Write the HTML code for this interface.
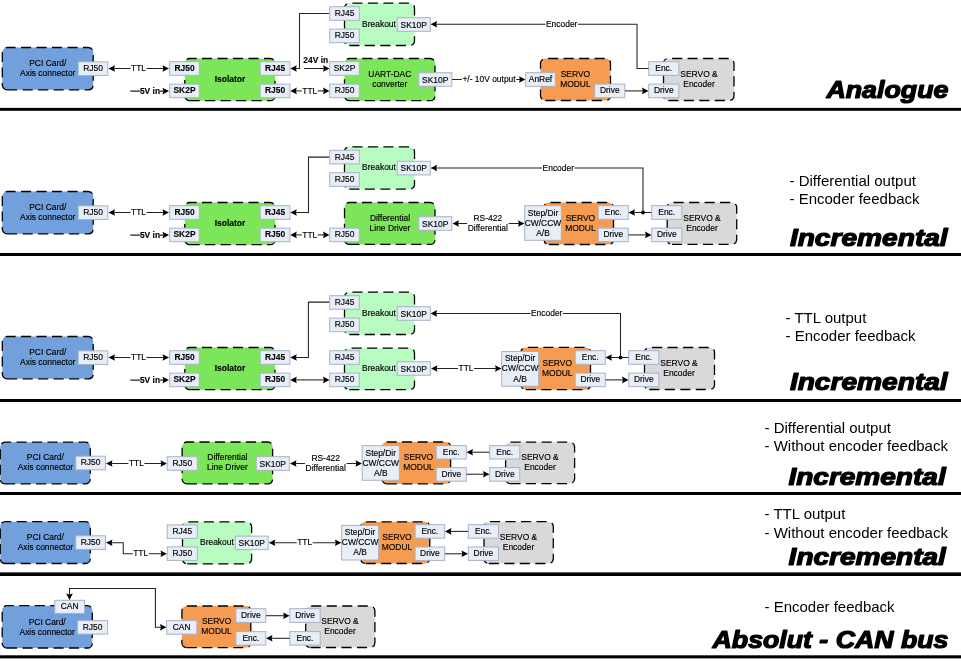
<!DOCTYPE html>
<html lang="en"><head><meta charset="utf-8"><title>Axis connection diagrams</title>
<style>
html,body{margin:0;padding:0;background:#fff}
svg{display:block;will-change:transform}
text{font-family:"Liberation Sans",Arial,sans-serif;fill:#000}
.t{font-size:8.45px;stroke:#000;stroke-width:0.15px}
.tb{font-size:8.45px;font-weight:bold;stroke:#000;stroke-width:0.12px}
.bl{font-size:15px;fill:#000}
.ti{font-size:23px;font-weight:bold;font-style:italic;fill:#000;stroke:#000;stroke-width:1.2px;stroke-linejoin:round}
.bg{stroke:#000;stroke-width:1.3;stroke-dasharray:10.1 5.4}
.sb{fill:#E8EEF8;stroke:#A9B2C5;stroke-width:1}
.ln{fill:none;stroke:#222;stroke-width:1.05}
.ah{fill:#000}
</style></head>
<body>
<svg width="961" height="661" viewBox="0 0 961 661">
<path class="bg" d="M7.1,89.8H88.4A4.8,4.8 0 0 0 93.2,85V52.3A4.8,4.8 0 0 0 88.4,47.5H7.1A4.8,4.8 0 0 0 2.3,52.3V85A4.8,4.8 0 0 0 7.1,89.8Z" fill="#72A0DC"/>
<text class="t" x="47.75" y="65.75" text-anchor="middle">PCI Card/</text>
<text class="t" x="47.75" y="75.95" text-anchor="middle">Axis connector</text>
<rect class="sb" x="78.2" y="61.85" width="29.6" height="13.6"/>
<text class="t" x="93" y="71.1" text-anchor="middle">RJ50</text>
<polyline class="ln" points="113.5,68.5 164,68.5"/>
<polygon class="ah" points="108.5,68.5 115,65.2 114.1,68.5 115,71.8"/>
<polygon class="ah" points="169,68.5 162.5,65.2 163.4,68.5 162.5,71.8"/>
<rect x="130.49" y="63.5" width="16.02" height="10" fill="#fff"/>
<text class="t" x="138.5" y="71.1" text-anchor="middle">TTL</text>
<path class="bg" d="M189.6,100.7H270.2A4.8,4.8 0 0 0 275,95.9V63.3A4.8,4.8 0 0 0 270.2,58.5H189.6A4.8,4.8 0 0 0 184.8,63.3V95.9A4.8,4.8 0 0 0 189.6,100.7Z" fill="#7DE55A"/>
<text class="tb" x="230" y="81.9" text-anchor="middle">Isolator</text>
<rect class="sb" x="169.7" y="61.7" width="29.6" height="13.6"/>
<text class="tb" x="184.5" y="70.95" text-anchor="middle">RJ50</text>
<rect class="sb" x="169.7" y="84.1" width="29.6" height="13.6"/>
<text class="tb" x="184.5" y="93.35" text-anchor="middle">SK2P</text>
<rect class="sb" x="260.2" y="61.7" width="29.7" height="13.6"/>
<text class="tb" x="275.05" y="70.95" text-anchor="middle">RJ45</text>
<rect class="sb" x="260.2" y="84.1" width="29.7" height="13.6"/>
<text class="tb" x="275.05" y="93.35" text-anchor="middle">RJ50</text>
<polyline class="ln" points="130.3,91.1 164,91.1"/>
<polygon class="ah" points="169,91.1 162.5,87.8 163.4,91.1 162.5,94.4"/>
<rect x="139.90" y="86.1" width="20.19" height="10" fill="#fff"/>
<text class="tb" x="150" y="93.7" text-anchor="middle">5V in</text>
<polyline class="ln" points="296,68.5 299.5,68.5 299.5,13.5 329.5,13.5"/>
<polygon class="ah" points="290.3,68.5 296.8,65.2 295.9,68.5 296.8,71.8"/>
<polyline class="ln" points="304,68.5 324,68.5"/>
<polygon class="ah" points="329.5,68.5 323,65.2 323.9,68.5 323,71.8"/>
<text class="tb" x="303.3" y="62.8" text-anchor="start">24V in</text>
<polyline class="ln" points="295.3,90.9 324.5,90.9"/>
<polygon class="ah" points="290.3,90.9 296.8,87.6 295.9,90.9 296.8,94.2"/>
<polygon class="ah" points="329.5,90.9 323,87.6 323.9,90.9 323,94.2"/>
<rect x="301.79" y="85.9" width="16.02" height="10" fill="#fff"/>
<text class="t" x="309.8" y="93.5" text-anchor="middle">TTL</text>
<path class="bg" d="M349.3,45.5H409.7A4.8,4.8 0 0 0 414.5,40.7V8A4.8,4.8 0 0 0 409.7,3.2H349.3A4.8,4.8 0 0 0 344.5,8V40.7A4.8,4.8 0 0 0 349.3,45.5Z" fill="#B9FCC1"/>
<text class="t" x="379" y="26.6" text-anchor="middle">Breakout</text>
<rect class="sb" x="329.7" y="6.7" width="29.6" height="13.6"/>
<text class="t" x="344.5" y="15.95" text-anchor="middle">RJ45</text>
<rect class="sb" x="329.7" y="29.1" width="29.6" height="13.6"/>
<text class="t" x="344.5" y="38.35" text-anchor="middle">RJ50</text>
<rect class="sb" x="397.2" y="17.7" width="33.1" height="13.6"/>
<text class="t" x="413.75" y="27.75" text-anchor="middle">SK10P</text>
<path class="bg" d="M349.3,100.7H430.2A4.8,4.8 0 0 0 435,95.9V63.3A4.8,4.8 0 0 0 430.2,58.5H349.3A4.8,4.8 0 0 0 344.5,63.3V95.9A4.8,4.8 0 0 0 349.3,100.7Z" fill="#7DE55A"/>
<text class="t" x="389.8" y="77" text-anchor="middle">UART-DAC</text>
<text class="t" x="389.8" y="87.1" text-anchor="middle">converter</text>
<rect class="sb" x="329.7" y="61.7" width="29.6" height="13.6"/>
<text class="t" x="344.5" y="70.95" text-anchor="middle">SK2P</text>
<rect class="sb" x="329.7" y="84.1" width="29.6" height="13.6"/>
<text class="t" x="344.5" y="93.35" text-anchor="middle">RJ50</text>
<rect class="sb" x="418.7" y="72.7" width="33.1" height="13.6"/>
<text class="t" x="435.25" y="82.75" text-anchor="middle">SK10P</text>
<polyline class="ln" points="452,79.5 520.5,79.5"/>
<polygon class="ah" points="525.5,79.5 519,76.2 519.9,79.5 519,82.8"/>
<rect x="461.84" y="74.5" width="54.32" height="10" fill="#fff"/>
<text class="t" x="489" y="82.1" text-anchor="middle">+/- 10V output</text>
<path class="bg" d="M545.3,100.5H605.7A4.8,4.8 0 0 0 610.5,95.7V63.3A4.8,4.8 0 0 0 605.7,58.5H545.3A4.8,4.8 0 0 0 540.5,63.3V95.7A4.8,4.8 0 0 0 545.3,100.5Z" fill="#F59C52"/>
<text class="t" x="575.4" y="76.9" text-anchor="middle">SERVO</text>
<text class="t" x="575.4" y="87" text-anchor="middle">MODUL</text>
<rect class="sb" x="525.7" y="72.7" width="29.6" height="13.6"/>
<text class="t" x="540.5" y="81.95" text-anchor="middle">AnRef</text>
<rect class="sb" x="594.7" y="84.1" width="30.1" height="13.6"/>
<text class="t" x="609.75" y="93.35" text-anchor="middle">Drive</text>
<polyline class="ln" points="625,90.9 643.5,90.9"/>
<polygon class="ah" points="648.5,90.9 642,87.6 642.9,90.9 642,94.2"/>
<path class="bg" d="M668.3,100.5H729.2A4.8,4.8 0 0 0 734,95.7V63.3A4.8,4.8 0 0 0 729.2,58.5H668.3A4.8,4.8 0 0 0 663.5,63.3V95.7A4.8,4.8 0 0 0 668.3,100.5Z" fill="#D9D9D9"/>
<text class="t" x="699" y="76.9" text-anchor="middle">SERVO &amp;</text>
<text class="t" x="699" y="87" text-anchor="middle">Encoder</text>
<rect class="sb" x="648.7" y="61.7" width="30.1" height="13.6"/>
<text class="t" x="663.75" y="70.95" text-anchor="middle">Enc.</text>
<rect class="sb" x="648.7" y="84.1" width="30.1" height="13.6"/>
<text class="t" x="663.75" y="93.35" text-anchor="middle">Drive</text>
<polyline class="ln" points="648.5,68.5 637,68.5 637,24.3 436,24.3"/>
<polygon class="ah" points="430.6,24.3 437.1,21 436.2,24.3 437.1,27.6"/>
<rect x="545.46" y="19.3" width="32.47" height="10" fill="#fff"/>
<text class="t" x="561.7" y="26.9" text-anchor="middle">Encoder</text>
<text class="ti" x="826.4" y="97.9" textLength="122" lengthAdjust="spacingAndGlyphs">Analogue</text>
<rect x="0" y="107.9" width="961" height="2.9" fill="#000"/>
<path class="bg" d="M7.1,233.8H88.4A4.8,4.8 0 0 0 93.2,229V196.3A4.8,4.8 0 0 0 88.4,191.5H7.1A4.8,4.8 0 0 0 2.3,196.3V229A4.8,4.8 0 0 0 7.1,233.8Z" fill="#72A0DC"/>
<text class="t" x="47.75" y="209.75" text-anchor="middle">PCI Card/</text>
<text class="t" x="47.75" y="219.95" text-anchor="middle">Axis connector</text>
<rect class="sb" x="78.2" y="205.85" width="29.6" height="13.6"/>
<text class="t" x="93" y="215.1" text-anchor="middle">RJ50</text>
<polyline class="ln" points="113.5,212.5 164,212.5"/>
<polygon class="ah" points="108.5,212.5 115,209.2 114.1,212.5 115,215.8"/>
<polygon class="ah" points="169,212.5 162.5,209.2 163.4,212.5 162.5,215.8"/>
<rect x="130.49" y="207.5" width="16.02" height="10" fill="#fff"/>
<text class="t" x="138.5" y="215.1" text-anchor="middle">TTL</text>
<path class="bg" d="M189.6,244.7H270.2A4.8,4.8 0 0 0 275,239.9V207.3A4.8,4.8 0 0 0 270.2,202.5H189.6A4.8,4.8 0 0 0 184.8,207.3V239.9A4.8,4.8 0 0 0 189.6,244.7Z" fill="#7DE55A"/>
<text class="tb" x="230" y="225.9" text-anchor="middle">Isolator</text>
<rect class="sb" x="169.7" y="205.7" width="29.6" height="13.6"/>
<text class="tb" x="184.5" y="214.95" text-anchor="middle">RJ50</text>
<rect class="sb" x="169.7" y="228.1" width="29.6" height="13.6"/>
<text class="tb" x="184.5" y="237.35" text-anchor="middle">SK2P</text>
<rect class="sb" x="260.2" y="205.7" width="29.7" height="13.6"/>
<text class="tb" x="275.05" y="214.95" text-anchor="middle">RJ45</text>
<rect class="sb" x="260.2" y="228.1" width="29.7" height="13.6"/>
<text class="tb" x="275.05" y="237.35" text-anchor="middle">RJ50</text>
<polyline class="ln" points="130.3,235.1 164,235.1"/>
<polygon class="ah" points="169,235.1 162.5,231.8 163.4,235.1 162.5,238.4"/>
<rect x="139.90" y="230.1" width="20.19" height="10" fill="#fff"/>
<text class="tb" x="150" y="237.7" text-anchor="middle">5V in</text>
<polyline class="ln" points="296,212.5 308.5,212.5 308.5,157.1 329.5,157.1"/>
<polygon class="ah" points="290.3,212.5 296.8,209.2 295.9,212.5 296.8,215.8"/>
<polyline class="ln" points="295.3,234.9 324.5,234.9"/>
<polygon class="ah" points="290.3,234.9 296.8,231.6 295.9,234.9 296.8,238.2"/>
<polygon class="ah" points="329.5,234.9 323,231.6 323.9,234.9 323,238.2"/>
<rect x="301.79" y="229.9" width="16.02" height="10" fill="#fff"/>
<text class="t" x="309.8" y="237.5" text-anchor="middle">TTL</text>
<path class="bg" d="M349.3,189.1H409.7A4.8,4.8 0 0 0 414.5,184.3V151.6A4.8,4.8 0 0 0 409.7,146.8H349.3A4.8,4.8 0 0 0 344.5,151.6V184.3A4.8,4.8 0 0 0 349.3,189.1Z" fill="#B9FCC1"/>
<text class="t" x="379" y="170.2" text-anchor="middle">Breakout</text>
<rect class="sb" x="329.7" y="150.3" width="29.6" height="13.6"/>
<text class="t" x="344.5" y="159.55" text-anchor="middle">RJ45</text>
<rect class="sb" x="329.7" y="172.7" width="29.6" height="13.6"/>
<text class="t" x="344.5" y="181.95" text-anchor="middle">RJ50</text>
<rect class="sb" x="397.2" y="161.3" width="33.1" height="13.6"/>
<text class="t" x="413.75" y="171.35" text-anchor="middle">SK10P</text>
<path class="bg" d="M349.3,244.4H430.2A4.8,4.8 0 0 0 435,239.6V207.3A4.8,4.8 0 0 0 430.2,202.5H349.3A4.8,4.8 0 0 0 344.5,207.3V239.6A4.8,4.8 0 0 0 349.3,244.4Z" fill="#7DE55A"/>
<text class="t" x="390" y="220.85" text-anchor="middle">Differential</text>
<text class="t" x="390" y="230.95" text-anchor="middle">Line Driver</text>
<rect class="sb" x="329.7" y="228.1" width="29.6" height="13.6"/>
<text class="t" x="344.5" y="237.35" text-anchor="middle">RJ50</text>
<rect class="sb" x="418.7" y="216.7" width="33.1" height="13.6"/>
<text class="t" x="435.25" y="226.75" text-anchor="middle">SK10P</text>
<polyline class="ln" points="457.5,223.5 519.5,223.5"/>
<polygon class="ah" points="452.5,223.5 459,220.2 458.1,223.5 459,226.8"/>
<polygon class="ah" points="524.5,223.5 518,220.2 518.9,223.5 518,226.8"/>
<rect x="467.05" y="218.5" width="41.50" height="10" fill="#fff"/>
<text class="t" x="487.8" y="220.7" text-anchor="middle">RS-422</text>
<text class="t" x="487.8" y="230.7" text-anchor="middle">Differential</text>
<path class="bg" d="M548.8,244.5H608.7A4.8,4.8 0 0 0 613.5,239.7V207.3A4.8,4.8 0 0 0 608.7,202.5H548.8A4.8,4.8 0 0 0 544,207.3V239.7A4.8,4.8 0 0 0 548.8,244.5Z" fill="#F59C52"/>
<text class="t" x="580.4" y="220.9" text-anchor="middle">SERVO</text>
<text class="t" x="580.4" y="231" text-anchor="middle">MODUL</text>
<rect class="sb" x="524.7" y="205.7" width="36.6" height="34.6"/>
<text class="t" x="543" y="215.5" text-anchor="middle">Step/Dir</text>
<text class="t" x="543" y="225.6" text-anchor="middle">CW/CCW</text>
<text class="t" x="543" y="235.7" text-anchor="middle">A/B</text>
<rect class="sb" x="598.2" y="205.7" width="30.1" height="13.6"/>
<text class="t" x="613.25" y="214.95" text-anchor="middle">Enc.</text>
<rect class="sb" x="598.2" y="228.1" width="30.1" height="13.6"/>
<text class="t" x="613.25" y="237.35" text-anchor="middle">Drive</text>
<path class="bg" d="M672,244.3H731.9A4.8,4.8 0 0 0 736.7,239.5V207.3A4.8,4.8 0 0 0 731.9,202.5H672A4.8,4.8 0 0 0 667.2,207.3V239.5A4.8,4.8 0 0 0 672,244.3Z" fill="#D9D9D9"/>
<text class="t" x="702" y="220.8" text-anchor="middle">SERVO &amp;</text>
<text class="t" x="702" y="230.9" text-anchor="middle">Encoder</text>
<rect class="sb" x="651.7" y="205.7" width="30.1" height="13.6"/>
<text class="t" x="666.75" y="214.95" text-anchor="middle">Enc.</text>
<rect class="sb" x="651.7" y="228.1" width="30.1" height="13.6"/>
<text class="t" x="666.75" y="237.35" text-anchor="middle">Drive</text>
<polyline class="ln" points="633.5,212.5 651.5,212.5"/>
<polygon class="ah" points="628.5,212.5 635,209.2 634.1,212.5 635,215.8"/>
<circle cx="643" cy="212.5" r="1.9" fill="#000"/>
<polyline class="ln" points="643,212.5 643,168 436,168"/>
<polygon class="ah" points="430.6,168 437.1,164.7 436.2,168 437.1,171.3"/>
<rect x="542.06" y="163" width="32.47" height="10" fill="#fff"/>
<text class="t" x="558.3" y="170.6" text-anchor="middle">Encoder</text>
<polyline class="ln" points="628.5,234.9 646.5,234.9"/>
<polygon class="ah" points="651.5,234.9 645,231.6 645.9,234.9 645,238.2"/>
<text class="bl" x="789.5" y="186.2" text-anchor="start">- Differential output</text>
<text class="bl" x="789.5" y="204.1" text-anchor="start">- Encoder feedback</text>
<text class="ti" x="789.9" y="246" textLength="157.8" lengthAdjust="spacingAndGlyphs">Incremental</text>
<rect x="0" y="253" width="961" height="3" fill="#000"/>
<path class="bg" d="M7.1,378.8H88.4A4.8,4.8 0 0 0 93.2,374V341.3A4.8,4.8 0 0 0 88.4,336.5H7.1A4.8,4.8 0 0 0 2.3,341.3V374A4.8,4.8 0 0 0 7.1,378.8Z" fill="#72A0DC"/>
<text class="t" x="47.75" y="354.75" text-anchor="middle">PCI Card/</text>
<text class="t" x="47.75" y="364.95" text-anchor="middle">Axis connector</text>
<rect class="sb" x="78.2" y="350.85" width="29.6" height="13.6"/>
<text class="t" x="93" y="360.1" text-anchor="middle">RJ50</text>
<polyline class="ln" points="113.5,357.5 164,357.5"/>
<polygon class="ah" points="108.5,357.5 115,354.2 114.1,357.5 115,360.8"/>
<polygon class="ah" points="169,357.5 162.5,354.2 163.4,357.5 162.5,360.8"/>
<rect x="130.49" y="352.5" width="16.02" height="10" fill="#fff"/>
<text class="t" x="138.5" y="360.1" text-anchor="middle">TTL</text>
<path class="bg" d="M189.6,389.7H270.2A4.8,4.8 0 0 0 275,384.9V352.3A4.8,4.8 0 0 0 270.2,347.5H189.6A4.8,4.8 0 0 0 184.8,352.3V384.9A4.8,4.8 0 0 0 189.6,389.7Z" fill="#7DE55A"/>
<text class="tb" x="230" y="370.9" text-anchor="middle">Isolator</text>
<rect class="sb" x="169.7" y="350.7" width="29.6" height="13.6"/>
<text class="tb" x="184.5" y="359.95" text-anchor="middle">RJ50</text>
<rect class="sb" x="169.7" y="373.1" width="29.6" height="13.6"/>
<text class="tb" x="184.5" y="382.35" text-anchor="middle">SK2P</text>
<rect class="sb" x="260.2" y="350.7" width="29.7" height="13.6"/>
<text class="tb" x="275.05" y="359.95" text-anchor="middle">RJ45</text>
<rect class="sb" x="260.2" y="373.1" width="29.7" height="13.6"/>
<text class="tb" x="275.05" y="382.35" text-anchor="middle">RJ50</text>
<polyline class="ln" points="130.3,380.1 164,380.1"/>
<polygon class="ah" points="169,380.1 162.5,376.8 163.4,380.1 162.5,383.4"/>
<rect x="139.90" y="375.1" width="20.19" height="10" fill="#fff"/>
<text class="tb" x="150" y="382.7" text-anchor="middle">5V in</text>
<polyline class="ln" points="296,357.5 308.4,357.5 308.4,302.1 329.5,302.1"/>
<polygon class="ah" points="290.3,357.5 296.8,354.2 295.9,357.5 296.8,360.8"/>
<polyline class="ln" points="295.3,379.9 324.5,379.9"/>
<polygon class="ah" points="290.3,379.9 296.8,376.6 295.9,379.9 296.8,383.2"/>
<polygon class="ah" points="329.5,379.9 323,376.6 323.9,379.9 323,383.2"/>
<path class="bg" d="M349.3,334.5H409.7A4.8,4.8 0 0 0 414.5,329.7V297A4.8,4.8 0 0 0 409.7,292.2H349.3A4.8,4.8 0 0 0 344.5,297V329.7A4.8,4.8 0 0 0 349.3,334.5Z" fill="#B9FCC1"/>
<text class="t" x="379" y="315.6" text-anchor="middle">Breakout</text>
<rect class="sb" x="329.7" y="295.7" width="29.6" height="13.6"/>
<text class="t" x="344.5" y="304.95" text-anchor="middle">RJ45</text>
<rect class="sb" x="329.7" y="318.1" width="29.6" height="13.6"/>
<text class="t" x="344.5" y="327.35" text-anchor="middle">RJ50</text>
<rect class="sb" x="397.2" y="306.7" width="33.1" height="13.6"/>
<text class="t" x="413.75" y="316.75" text-anchor="middle">SK10P</text>
<path class="bg" d="M349.3,389.7H409.7A4.8,4.8 0 0 0 414.5,384.9V353A4.8,4.8 0 0 0 409.7,348.2H349.3A4.8,4.8 0 0 0 344.5,353V384.9A4.8,4.8 0 0 0 349.3,389.7Z" fill="#B9FCC1"/>
<text class="t" x="379" y="370.6" text-anchor="middle">Breakout</text>
<rect class="sb" x="329.7" y="350.7" width="29.6" height="13.6"/>
<text class="t" x="344.5" y="359.95" text-anchor="middle">RJ45</text>
<rect class="sb" x="329.7" y="373.1" width="29.6" height="13.6"/>
<text class="t" x="344.5" y="382.35" text-anchor="middle">RJ50</text>
<rect class="sb" x="397.2" y="361.7" width="33.1" height="13.6"/>
<text class="t" x="413.75" y="371.75" text-anchor="middle">SK10P</text>
<polyline class="ln" points="436,368.5 496.5,368.5"/>
<polygon class="ah" points="431,368.5 437.5,365.2 436.6,368.5 437.5,371.8"/>
<polygon class="ah" points="501.5,368.5 495,365.2 495.9,368.5 495,371.8"/>
<rect x="457.99" y="363.5" width="16.02" height="10" fill="#fff"/>
<text class="t" x="466" y="371.1" text-anchor="middle">TTL</text>
<path class="bg" d="M525.8,389.7H585.7A4.8,4.8 0 0 0 590.5,384.9V352.2A4.8,4.8 0 0 0 585.7,347.4H525.8A4.8,4.8 0 0 0 521,352.2V384.9A4.8,4.8 0 0 0 525.8,389.7Z" fill="#F59C52"/>
<text class="t" x="557.3" y="365.95" text-anchor="middle">SERVO</text>
<text class="t" x="557.3" y="376.05" text-anchor="middle">MODUL</text>
<rect class="sb" x="501.7" y="351.5" width="36.9" height="34.7"/>
<text class="t" x="520.15" y="361.35" text-anchor="middle">Step/Dir</text>
<text class="t" x="520.15" y="371.45" text-anchor="middle">CW/CCW</text>
<text class="t" x="520.15" y="381.55" text-anchor="middle">A/B</text>
<rect class="sb" x="575.2" y="350.7" width="30.1" height="13.6"/>
<text class="t" x="590.25" y="359.95" text-anchor="middle">Enc.</text>
<rect class="sb" x="575.2" y="373.1" width="30.1" height="13.6"/>
<text class="t" x="590.25" y="382.35" text-anchor="middle">Drive</text>
<path class="bg" d="M649.3,389.5H709.7A4.8,4.8 0 0 0 714.5,384.7V352.3A4.8,4.8 0 0 0 709.7,347.5H649.3A4.8,4.8 0 0 0 644.5,352.3V384.7A4.8,4.8 0 0 0 649.3,389.5Z" fill="#D9D9D9"/>
<text class="t" x="679" y="365.9" text-anchor="middle">SERVO &amp;</text>
<text class="t" x="679" y="376" text-anchor="middle">Encoder</text>
<rect class="sb" x="628.7" y="350.7" width="30.1" height="13.6"/>
<text class="t" x="643.75" y="359.95" text-anchor="middle">Enc.</text>
<rect class="sb" x="628.7" y="373.1" width="30.1" height="13.6"/>
<text class="t" x="643.75" y="382.35" text-anchor="middle">Drive</text>
<polyline class="ln" points="610.5,357.5 628.5,357.5"/>
<polygon class="ah" points="605.5,357.5 612,354.2 611.1,357.5 612,360.8"/>
<circle cx="620.5" cy="357.5" r="1.9" fill="#000"/>
<polyline class="ln" points="620.5,357.5 620.5,313.4 436,313.4"/>
<polygon class="ah" points="430.6,313.4 437.1,310.1 436.2,313.4 437.1,316.7"/>
<rect x="530.46" y="308.4" width="32.47" height="10" fill="#fff"/>
<text class="t" x="546.7" y="316" text-anchor="middle">Encoder</text>
<polyline class="ln" points="605.5,379.9 623.5,379.9"/>
<polygon class="ah" points="628.5,379.9 622,376.6 622.9,379.9 622,383.2"/>
<text class="bl" x="785.5" y="323.1" text-anchor="start">- TTL output</text>
<text class="bl" x="785.5" y="341.1" text-anchor="start">- Encoder feedback</text>
<text class="ti" x="789.9" y="390.3" textLength="157.8" lengthAdjust="spacingAndGlyphs">Incremental</text>
<rect x="0" y="399" width="961" height="3" fill="#000"/>
<path class="bg" d="M5.1,483.8H85.5A4.8,4.8 0 0 0 90.3,479V447A4.8,4.8 0 0 0 85.5,442.2H5.1A4.8,4.8 0 0 0 0.3,447V479A4.8,4.8 0 0 0 5.1,483.8Z" fill="#72A0DC"/>
<text class="t" x="45.3" y="460.1" text-anchor="middle">PCI Card/</text>
<text class="t" x="45.3" y="470.3" text-anchor="middle">Axis connector</text>
<rect class="sb" x="75.8" y="456.2" width="29.6" height="13.6"/>
<text class="t" x="90.6" y="465.45" text-anchor="middle">RJ50</text>
<polyline class="ln" points="111,463.5 162,463.5"/>
<polygon class="ah" points="106,463.5 112.5,460.2 111.6,463.5 112.5,466.8"/>
<polygon class="ah" points="167,463.5 160.5,460.2 161.4,463.5 160.5,466.8"/>
<rect x="128.39" y="458.5" width="16.02" height="10" fill="#fff"/>
<text class="t" x="136.4" y="466.1" text-anchor="middle">TTL</text>
<path class="bg" d="M186.9,483.8H267.8A4.8,4.8 0 0 0 272.6,479V446.8A4.8,4.8 0 0 0 267.8,442H186.9A4.8,4.8 0 0 0 182.1,446.8V479A4.8,4.8 0 0 0 186.9,483.8Z" fill="#7DE55A"/>
<text class="t" x="227.4" y="460.3" text-anchor="middle">Differential</text>
<text class="t" x="227.4" y="470.4" text-anchor="middle">Line Driver</text>
<rect class="sb" x="167.2" y="456.7" width="30.1" height="13.6"/>
<text class="t" x="182.25" y="465.95" text-anchor="middle">RJ50</text>
<rect class="sb" x="256.2" y="456.7" width="33.1" height="13.6"/>
<text class="t" x="272.75" y="466.75" text-anchor="middle">SK10P</text>
<polyline class="ln" points="295,463.5 357,463.5"/>
<polygon class="ah" points="290,463.5 296.5,460.2 295.6,463.5 296.5,466.8"/>
<polygon class="ah" points="362,463.5 355.5,460.2 356.4,463.5 355.5,466.8"/>
<rect x="304.95" y="458.5" width="41.50" height="10" fill="#fff"/>
<text class="t" x="325.7" y="460.7" text-anchor="middle">RS-422</text>
<text class="t" x="325.7" y="470.7" text-anchor="middle">Differential</text>
<path class="bg" d="M386.8,483.8H445.8A4.8,4.8 0 0 0 450.6,479V446.8A4.8,4.8 0 0 0 445.8,442H386.8A4.8,4.8 0 0 0 382,446.8V479A4.8,4.8 0 0 0 386.8,483.8Z" fill="#F59C52"/>
<text class="t" x="418.5" y="460.3" text-anchor="middle">SERVO</text>
<text class="t" x="418.5" y="470.4" text-anchor="middle">MODUL</text>
<rect class="sb" x="362.2" y="445.7" width="37.1" height="34.6"/>
<text class="t" x="380.75" y="455.5" text-anchor="middle">Step/Dir</text>
<text class="t" x="380.75" y="465.6" text-anchor="middle">CW/CCW</text>
<text class="t" x="380.75" y="475.7" text-anchor="middle">A/B</text>
<rect class="sb" x="436.2" y="445.6" width="30.1" height="13.4"/>
<text class="t" x="451.25" y="454.75" text-anchor="middle">Enc.</text>
<rect class="sb" x="436.2" y="467.6" width="30.1" height="13.6"/>
<text class="t" x="451.25" y="476.85" text-anchor="middle">Drive</text>
<path class="bg" d="M510.4,483.6H569.8A4.8,4.8 0 0 0 574.6,478.8V447A4.8,4.8 0 0 0 569.8,442.2H510.4A4.8,4.8 0 0 0 505.6,447V478.8A4.8,4.8 0 0 0 510.4,483.6Z" fill="#D9D9D9"/>
<text class="t" x="540" y="460.3" text-anchor="middle">SERVO &amp;</text>
<text class="t" x="540" y="470.4" text-anchor="middle">Encoder</text>
<rect class="sb" x="489.7" y="445.6" width="30.1" height="13.4"/>
<text class="t" x="504.75" y="454.75" text-anchor="middle">Enc.</text>
<rect class="sb" x="489.7" y="467.6" width="30.1" height="13.6"/>
<text class="t" x="504.75" y="476.85" text-anchor="middle">Drive</text>
<polyline class="ln" points="471.5,452.2 489.5,452.2"/>
<polygon class="ah" points="466.5,452.2 473,448.9 472.1,452.2 473,455.5"/>
<polyline class="ln" points="466.5,474.2 484.5,474.2"/>
<polygon class="ah" points="489.5,474.2 483,470.9 483.9,474.2 483,477.5"/>
<text class="bl" x="764.5" y="433.3" text-anchor="start">- Differential output</text>
<text class="bl" x="764.5" y="450.8" text-anchor="start">- Without encoder feedback</text>
<text class="ti" x="788.4" y="484.7" textLength="157.3" lengthAdjust="spacingAndGlyphs">Incremental</text>
<rect x="0" y="492" width="961" height="3" fill="#000"/>
<path class="bg" d="M5.1,563.5H85.5A4.8,4.8 0 0 0 90.3,558.7V526.5A4.8,4.8 0 0 0 85.5,521.7H5.1A4.8,4.8 0 0 0 0.3,526.5V558.7A4.8,4.8 0 0 0 5.1,563.5Z" fill="#72A0DC"/>
<text class="t" x="45.3" y="539.7" text-anchor="middle">PCI Card/</text>
<text class="t" x="45.3" y="549.9" text-anchor="middle">Axis connector</text>
<rect class="sb" x="75.8" y="535.8" width="29.6" height="13.6"/>
<text class="t" x="90.6" y="545.05" text-anchor="middle">RJ50</text>
<polyline class="ln" points="111,542.7 123.25,542.7 123.25,553.8 162,553.8"/>
<polygon class="ah" points="106,542.7 112.5,539.4 111.6,542.7 112.5,546"/>
<polygon class="ah" points="167,553.8 160.5,550.5 161.4,553.8 160.5,557.1"/>
<rect x="132.69" y="548.8" width="16.02" height="10" fill="#fff"/>
<text class="t" x="140.7" y="556.4" text-anchor="middle">TTL</text>
<path class="bg" d="M187.3,563.9H246.8A4.8,4.8 0 0 0 251.6,559.1V526.7A4.8,4.8 0 0 0 246.8,521.9H187.3A4.8,4.8 0 0 0 182.5,526.7V559.1A4.8,4.8 0 0 0 187.3,563.9Z" fill="#B9FCC1"/>
<text class="t" x="216.9" y="545.1" text-anchor="middle">Breakout</text>
<rect class="sb" x="167.2" y="524.9" width="30.1" height="13.5"/>
<text class="t" x="182.25" y="534.1" text-anchor="middle">RJ45</text>
<rect class="sb" x="167.2" y="546.9" width="30.1" height="13.5"/>
<text class="t" x="182.25" y="556.1" text-anchor="middle">RJ50</text>
<rect class="sb" x="235.3" y="536.1" width="32.9" height="13.5"/>
<text class="t" x="251.75" y="546.1" text-anchor="middle">SK10P</text>
<polyline class="ln" points="273.8,542.8 336.4,542.8"/>
<polygon class="ah" points="268.8,542.8 275.3,539.5 274.4,542.8 275.3,546.1"/>
<polygon class="ah" points="341.4,542.8 334.9,539.5 335.8,542.8 334.9,546.1"/>
<rect x="296.69" y="537.8" width="16.02" height="10" fill="#fff"/>
<text class="t" x="304.7" y="545.4" text-anchor="middle">TTL</text>
<path class="bg" d="M365.6,563.5H425A4.8,4.8 0 0 0 429.8,558.7V526.6A4.8,4.8 0 0 0 425,521.8H365.6A4.8,4.8 0 0 0 360.8,526.6V558.7A4.8,4.8 0 0 0 365.6,563.5Z" fill="#F59C52"/>
<text class="t" x="397" y="540.05" text-anchor="middle">SERVO</text>
<text class="t" x="397" y="550.15" text-anchor="middle">MODUL</text>
<rect class="sb" x="341.6" y="525.4" width="37" height="34.6"/>
<text class="t" x="360.1" y="535.2" text-anchor="middle">Step/Dir</text>
<text class="t" x="360.1" y="545.3" text-anchor="middle">CW/CCW</text>
<text class="t" x="360.1" y="555.4" text-anchor="middle">A/B</text>
<rect class="sb" x="415.1" y="524.7" width="29.6" height="13.5"/>
<text class="t" x="429.9" y="533.9" text-anchor="middle">Enc.</text>
<rect class="sb" x="415.1" y="547" width="29.6" height="13.4"/>
<text class="t" x="429.9" y="556.15" text-anchor="middle">Drive</text>
<path class="bg" d="M488.8,563.5H548.5A4.8,4.8 0 0 0 553.3,558.7V526.5A4.8,4.8 0 0 0 548.5,521.7H488.8A4.8,4.8 0 0 0 484,526.5V558.7A4.8,4.8 0 0 0 488.8,563.5Z" fill="#D9D9D9"/>
<text class="t" x="518.5" y="540" text-anchor="middle">SERVO &amp;</text>
<text class="t" x="518.5" y="550.1" text-anchor="middle">Encoder</text>
<rect class="sb" x="468.3" y="524.7" width="30.2" height="13.5"/>
<text class="t" x="483.4" y="533.9" text-anchor="middle">Enc.</text>
<rect class="sb" x="468.3" y="547" width="30.2" height="13.4"/>
<text class="t" x="483.4" y="556.15" text-anchor="middle">Drive</text>
<polyline class="ln" points="450,531.4 468,531.4"/>
<polygon class="ah" points="445,531.4 451.5,528.1 450.6,531.4 451.5,534.7"/>
<polyline class="ln" points="445,553.8 463,553.8"/>
<polygon class="ah" points="468,553.8 461.5,550.5 462.4,553.8 461.5,557.1"/>
<text class="bl" x="764.5" y="519.2" text-anchor="start">- TTL output</text>
<text class="bl" x="764.5" y="537.8" text-anchor="start">- Without encoder feedback</text>
<text class="ti" x="788.6" y="565.3" textLength="157.3" lengthAdjust="spacingAndGlyphs">Incremental</text>
<rect x="0" y="572.4" width="961" height="3.6" fill="#000"/>
<path class="bg" d="M7,648H87.5A4.8,4.8 0 0 0 92.3,643.2V610.5A4.8,4.8 0 0 0 87.5,605.7H7A4.8,4.8 0 0 0 2.2,610.5V643.2A4.8,4.8 0 0 0 7,648Z" fill="#72A0DC"/>
<text class="t" x="47.2" y="624.5" text-anchor="middle">PCI Card/</text>
<text class="t" x="47.2" y="634.6" text-anchor="middle">Axis connector</text>
<rect class="sb" x="54.8" y="600.3" width="29.7" height="13.1"/>
<text class="t" x="69.65" y="609.3" text-anchor="middle">CAN</text>
<rect class="sb" x="77.5" y="620.6" width="30.1" height="13.5"/>
<text class="t" x="92.55" y="629.8" text-anchor="middle">RJ50</text>
<polyline class="ln" points="69.5,594.5 69.5,588.5 155.4,588.5 155.4,627.2 161.5,627.2"/>
<polygon class="ah" points="69.5,600 66.2,593.5 69.5,594.4 72.8,593.5"/>
<polygon class="ah" points="166.5,627.2 160,623.9 160.9,627.2 160,630.5"/>
<path class="bg" d="M186.7,647.6H246A4.8,4.8 0 0 0 250.8,642.8V610.8A4.8,4.8 0 0 0 246,606H186.7A4.8,4.8 0 0 0 181.9,610.8V642.8A4.8,4.8 0 0 0 186.7,647.6Z" fill="#F59C52"/>
<text class="t" x="216.6" y="624.2" text-anchor="middle">SERVO</text>
<text class="t" x="216.6" y="634.3" text-anchor="middle">MODUL</text>
<rect class="sb" x="166.6" y="620.6" width="30.2" height="13.6"/>
<text class="t" x="181.7" y="629.85" text-anchor="middle">CAN</text>
<rect class="sb" x="235.9" y="608.7" width="29.9" height="13.7"/>
<text class="t" x="250.85" y="618" text-anchor="middle">Drive</text>
<rect class="sb" x="235.9" y="631.6" width="29.9" height="13.5"/>
<text class="t" x="250.85" y="640.8" text-anchor="middle">Enc.</text>
<path class="bg" d="M310.5,647.5H370.1A4.8,4.8 0 0 0 374.9,642.7V610.8A4.8,4.8 0 0 0 370.1,606H310.5A4.8,4.8 0 0 0 305.7,610.8V642.7A4.8,4.8 0 0 0 310.5,647.5Z" fill="#D9D9D9"/>
<text class="t" x="340" y="624.15" text-anchor="middle">SERVO &amp;</text>
<text class="t" x="340" y="634.25" text-anchor="middle">Encoder</text>
<rect class="sb" x="289.8" y="608.7" width="30.4" height="13.7"/>
<text class="t" x="305" y="618" text-anchor="middle">Drive</text>
<rect class="sb" x="289.8" y="631.6" width="30.4" height="13.5"/>
<text class="t" x="305" y="640.8" text-anchor="middle">Enc.</text>
<polyline class="ln" points="266,615.7 284.6,615.7"/>
<polygon class="ah" points="289.6,615.7 283.1,612.4 284,615.7 283.1,619"/>
<polyline class="ln" points="271,638.3 289.6,638.3"/>
<polygon class="ah" points="266,638.3 272.5,635 271.6,638.3 272.5,641.6"/>
<text class="bl" x="764.5" y="611.8" text-anchor="start">- Encoder feedback</text>
<text class="ti" x="712.6" y="647.5" textLength="235.8" lengthAdjust="spacingAndGlyphs">Absolut - CAN bus</text>
<rect x="0" y="655.3" width="961" height="3.1" fill="#000"/>
</svg>
</body></html>
